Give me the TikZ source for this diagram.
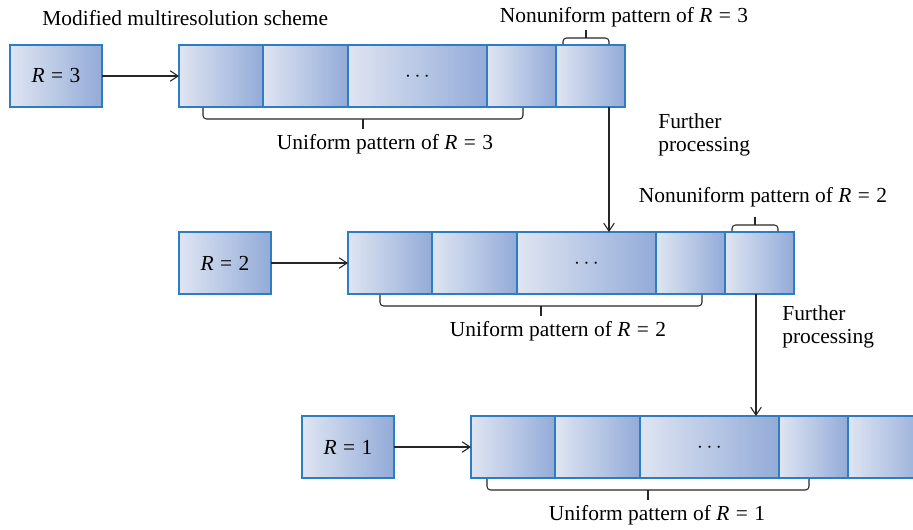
\documentclass[tikz,border=0pt]{standalone}
\usepackage{fontspec}
\setmainfont{Liberation Serif}
\usetikzlibrary{positioning,arrows.meta}
\definecolor{cellborder}{RGB}{46,124,196}
\definecolor{celllight}{RGB}{223,229,242}
\definecolor{celldark}{RGB}{147,171,216}
\newcommand\Req[1]{\textit{R}\hspace{0.3em}=\hspace{0.3em}#1}
\tikzset{
  cellbox/.style={
    draw=cellborder,
    line width=0.8pt,
    left color=celllight,
    right color=celldark,
    minimum width=#1*0.02cm,
    minimum height=1.24cm,
    inner sep=0pt,
    outer sep=0pt
  },
  rbox/.style={cellbox=92},
  conn/.style={line width=0.6pt, black!85, -{Straight Barb[length=4.5pt,width=6pt]}},
  bracket/.style={line width=0.6pt, black!85, rounded corners=2pt},
  txt/.style={inner sep=0pt},
  every picture/.style={x=0.02cm, y=0.02cm, font=\fontsize{12.2}{13}\selectfont}
}
\begin{document}
\begin{tikzpicture}
  \useasboundingbox (0,0) rectangle (913,-529);
  \node[txt, anchor=west] (title) at (42,-18) {Modified multiresolution scheme};

  % one row per resolution
  \foreach \r/\x/\y/\ua/\ub/\ul/\lw in {3/10/45/24/344/206/69, 2/179/232/32/354/210/69, 1/302/416/16/338/186/80} {
    \node[rbox, anchor=north west] (r\r) at (\x,-\y) {\Req{\r}};
    \node[cellbox=84, anchor=north west] (c\r-1) at (\x+169,-\y) {};
    \node[cellbox=85, right=0pt of c\r-1] (c\r-2) {};
    \node[cellbox=139, right=0pt of c\r-2] (c\r-3) {\raisebox{-3pt}[0pt][0pt]{$\cdots$}};
    \node[cellbox=69, right=0pt of c\r-3] (c\r-4) {};
    \node[cellbox=\lw, right=0pt of c\r-4] (c\r-5) {};
    \draw[conn] (r\r) -- (c\r-1);
    \draw[bracket] ([shift={(\ua,-1)}]c\r-1.south west) -- ++(0,-11) -| ([shift={(\ub,-1)}]c\r-1.south west);
    \draw[bracket] ([shift={({(\ua+\ub)/2},-12)}]c\r-1.south west) -- ++(0,-10);
    \node[txt] (u\r) at ([shift={(\ul,-37)}]c\r-1.south west) {Uniform pattern of \Req{\r}};
  }

  % nonuniform part on top
  \foreach \r in {3, 2} {
    \draw[bracket] ([shift={(7,1)}]c\r-5.north west) -- ++(0,6) -| ([shift={(53,1)}]c\r-5.north west);
    \draw[bracket] ([shift={(30,7)}]c\r-5.north west) -- ++(0,8);
  }
  \node[txt] (n3) at (624,-17) {Nonuniform pattern of \Req{3}};
  \node[txt] (n2) at (763,-197) {Nonuniform pattern of \Req{2}};

  % further processing
  \draw[conn] ([xshift=0.37cm]c3-5.south) -- ([xshift=0.37cm]c3-5.south |- c2-3.north);
  \draw[conn] ([xshift=-0.07cm]c2-5.south) -- ([xshift=-0.07cm]c2-5.south |- c1-3.north);
  \node[txt, anchor=west, align=left] (f3) at (658,-135) {Further\\processing};
  \node[txt, anchor=west, align=left] (f2) at (782,-327) {Further\\processing};
\end{tikzpicture}
\end{document}
